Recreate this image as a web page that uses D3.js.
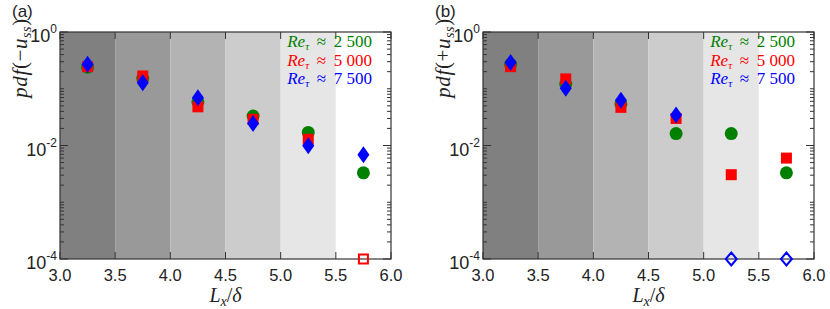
<!DOCTYPE html>
<html>
<head>
<meta charset="utf-8">
<script src="https://cdn.jsdelivr.net/npm/d3@7"></script>
<style>
  body { margin: 0; background: #fff; }
  svg text { font-family: "Liberation Sans", Arial, sans-serif; }
  .math { font-family: "Liberation Serif", "DejaVu Serif", serif; }
</style>
</head>
<body>
<div id="chart"></div>
<script>
// bin centres and shading bands
let binCenters = [3.25, 3.75, 4.25, 4.75, 5.25, 5.75];
let bandEdges = [3.0, 3.5, 4.0, 4.5, 5.0, 5.5, 6.0];
let bandGreys = ["#808080", "#999999", "#b3b3b3", "#cccccc", "#e6e6e6", "#ffffff"];
let xTicks = [3.0, 3.5, 4.0, 4.5, 5.0, 5.5, 6.0];
let yLabelTicks = [1, 1e-2, 1e-4];

// 0 means no event -> drawn as open marker on the axis floor
let negRe2500 = [0.24, 0.153, 0.059, 0.033, 0.017, 0.0033];
let negRe5000 = [0.245, 0.168, 0.048, 0.029, 0.0129, 0];
let negRe7500 = [0.27, 0.128, 0.0696, 0.0245, 0.0099, 0.0069];

let posRe2500 = [0.27, 0.121, 0.054, 0.0162, 0.0162, 0.0033];
let posRe5000 = [0.245, 0.149, 0.047, 0.030, 0.00306, 0.006];
let posRe7500 = [0.29, 0.102, 0.063, 0.0344, 0, 0];

let legendLabels = ["2 500", "5 000", "7 500"];
let seriesColors = ["#008000", "#ff0000", "#0000ff"];

let width = 830, height = 309;

let svg = d3.select("#chart")
    .append("svg")
    .attr("width", width)
    .attr("height", height);

function drawPanel(left, tag, sign, series) {
    let right = left + 331, top = 32, bottom = 259;

    let x = d3.scaleLinear().domain([3, 6]).range([left, right]);
    let y = d3.scaleLog().domain([1e-4, 1]).range([bottom, top]);

    let g = svg.append("g");

    // grey bands
    g.selectAll("rect.band")
        .data(bandGreys)
        .enter().append("rect")
        .attr("class", "band")
        .attr("x", (d, i) => x(bandEdges[i]))
        .attr("y", top)
        .attr("width", (d, i) => x(bandEdges[i + 1]) - x(bandEdges[i]))
        .attr("height", bottom - top)
        .attr("fill", d => d);

    // minor / major log ticks (left and right)
    let yTicks = [];
    for (let e = -4; e < 0; e++) {
        for (let m = 1; m < 10; m++) yTicks.push(m * Math.pow(10, e));
    }
    yTicks.push(1);
    yTicks.forEach(t => {
        let major = yLabelTicks.some(v => Math.abs(v - t) / t < 1e-6);
        let len = major ? 8 : 4;
        g.append("line").attr("x1", left).attr("x2", left + len)
            .attr("y1", y(t)).attr("y2", y(t)).attr("stroke", "#333");
        g.append("line").attr("x1", right).attr("x2", right - len)
            .attr("y1", y(t)).attr("y2", y(t)).attr("stroke", "#333");
    });

    xTicks.forEach(t => {
        g.append("line").attr("x1", x(t)).attr("x2", x(t))
            .attr("y1", bottom).attr("y2", bottom - 7).attr("stroke", "#333");
        g.append("line").attr("x1", x(t)).attr("x2", x(t))
            .attr("y1", top).attr("y2", top + 7).attr("stroke", "#333");
        g.append("text")
            .attr("x", x(t))
            .attr("y", 281)
            .attr("text-anchor", "middle")
            .attr("font-size", "16.5px")
            .attr("fill", "#222")
            .text(t.toFixed(1));
    });

    // frame
    g.append("rect")
        .attr("x", left).attr("y", top)
        .attr("width", right - left).attr("height", bottom - top)
        .attr("fill", "none").attr("stroke", "#333").attr("stroke-width", 1.2);

    // y tick labels 10^n
    yLabelTicks.forEach(t => {
        let lbl = g.append("text")
            .attr("x", left - 3)
            .attr("y", y(t) + 10)
            .attr("text-anchor", "end")
            .attr("font-size", "18px")
            .attr("fill", "#222");
        lbl.append("tspan").text("10");
        lbl.append("tspan")
            .attr("dy", -9)
            .attr("font-size", "12px")
            .text(Math.round(Math.log10(t)) === 0 ? "0" : Math.round(Math.log10(t)));
    });

    // markers: green circles, red squares, blue diamonds
    let floorY = y.domain()[0];
    let pts = (vals) => vals.map((v, i) => ({ x: binCenters[i], v: v }));

    g.selectAll("circle.re1")
        .data(pts(series[0]))
        .enter().append("circle")
        .attr("cx", d => x(d.x))
        .attr("cy", d => y(d.v > 0 ? d.v : floorY))
        .attr("r", d => d.v > 0 ? 6.5 : 5)
        .attr("fill", d => d.v > 0 ? seriesColors[0] : "none")
        .attr("stroke", d => d.v > 0 ? "none" : seriesColors[0])
        .attr("stroke-width", 2);

    g.selectAll("rect.re2")
        .data(pts(series[1]))
        .enter().append("rect")
        .attr("x", d => x(d.x) - (d.v > 0 ? 5.5 : 4.5))
        .attr("y", d => y(d.v > 0 ? d.v : floorY) - (d.v > 0 ? 5.5 : 4.5))
        .attr("width", d => d.v > 0 ? 11 : 9)
        .attr("height", d => d.v > 0 ? 11 : 9)
        .attr("fill", d => d.v > 0 ? seriesColors[1] : "none")
        .attr("stroke", d => d.v > 0 ? "none" : seriesColors[1])
        .attr("stroke-width", 2);

    g.selectAll("path.re3")
        .data(pts(series[2]))
        .enter().append("path")
        .attr("d", d => {
            let cx = x(d.x), cy = y(d.v > 0 ? d.v : floorY);
            let w = d.v > 0 ? 6 : 5.5, h = d.v > 0 ? 8.5 : 6.5;
            return `M${cx},${cy - h}L${cx + w},${cy}L${cx},${cy + h}L${cx - w},${cy}Z`;
        })
        .attr("fill", d => d.v > 0 ? seriesColors[2] : "none")
        .attr("stroke", d => d.v > 0 ? "none" : seriesColors[2])
        .attr("stroke-width", 2);

    // legend
    legendLabels.forEach((lab, i) => {
        let t = g.append("text")
            .attr("class", "math")
            .attr("x", right - 19)
            .attr("y", 47 + i * 18.5)
            .attr("text-anchor", "end")
            .attr("font-size", "17px")
            .attr("fill", seriesColors[i]);
        t.append("tspan").attr("font-style", "italic").text("Re");
        t.append("tspan").attr("font-style", "italic").attr("font-size", "11px").attr("dy", 3).text("τ");
        t.append("tspan").attr("dy", -3).text(" \u2009≈\u2009 " + lab);
    });

    // axis labels
    let xl = g.append("text")
        .attr("class", "math")
        .attr("x", (left + right) / 2)
        .attr("y", 302)
        .attr("text-anchor", "middle")
        .attr("font-size", "20px")
        .attr("fill", "#222");
    xl.append("tspan").attr("font-style", "italic").text("L");
    xl.append("tspan").attr("font-style", "italic").attr("font-size", "14px").attr("dy", 4).text("x");
    xl.append("tspan").attr("dy", -4).text("/");
    xl.append("tspan").attr("font-style", "italic").text("δ");

    let yl = g.append("text")
        .attr("class", "math")
        .attr("transform", `translate(${left - 33},58) rotate(-90)`)
        .attr("text-anchor", "middle")
        .attr("font-size", "21px")
        .attr("letter-spacing", "0.6px")
        .attr("fill", "#222");
    yl.append("tspan").attr("font-style", "italic").text("pdf");
    yl.append("tspan").text("(" + sign);
    yl.append("tspan").attr("font-style", "italic").text("u");
    yl.append("tspan").attr("font-style", "italic").attr("font-size", "14px").attr("dy", 4).text("ss");
    yl.append("tspan").attr("dy", -4).text(")");

    // panel tag
    svg.append("text")
        .attr("x", left - 48)
        .attr("y", 17)
        .attr("font-size", "17px")
        .attr("fill", "#222")
        .text(tag);
}

drawPanel(60, "(a)", "−", [negRe2500, negRe5000, negRe7500]);
drawPanel(483, "(b)", "+", [posRe2500, posRe5000, posRe7500]);
</script>
</body>
</html>
